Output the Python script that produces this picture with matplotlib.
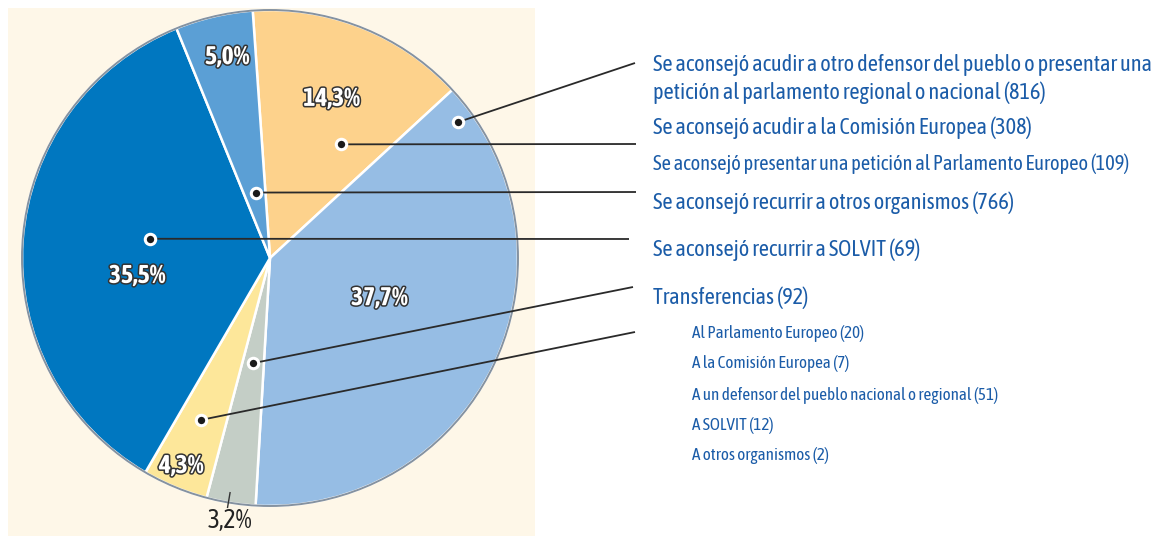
import matplotlib
matplotlib.use("Agg")
import matplotlib.pyplot as plt
import matplotlib.patheffects as pe
from matplotlib.patches import Rectangle, Circle
import numpy as np

# slices, clockwise from the top
slice_names = ["Comisión Europea", "Otro defensor / parlamento", "SOLVIT",
               "Transferencias", "Otros organismos", "Parlamento Europeo"]
counts = [308, 816, 69, 92, 766, 109]
pct_labels = ["14,3%", "37,7%", "3,2%", "4,3%", "35,5%", "5,0%"]
colors = ["#FDD28C", "#96BDE4", "#C4CEC6", "#FDE79A", "#0077C0", "#5B9FD5"]

main_labels = [
    "Se aconsejó acudir a otro defensor del pueblo o presentar una\npetición al parlamento regional o nacional (816)",
    "Se aconsejó acudir a la Comisión Europea (308)",
    "Se aconsejó presentar una petición al Parlamento Europeo (109)",
    "Se aconsejó recurrir a otros organismos (766)",
    "Se aconsejó recurrir a SOLVIT (69)",
    "Transferencias (92)",
]
sub_labels = ["Al Parlamento Europeo (20)", "A la Comisión Europea (7)",
              "A un defensor del pueblo nacional o regional (51)",
              "A SOLVIT (12)", "A otros organismos (2)"]

W, H = 1163, 536
BLUE_TXT = "#1B5CA8"
plt.rcParams["font.family"] = ["Asap Condensed", "Liberation Sans Narrow", "DejaVu Sans"]

def Y(y):
    return H - y

fig = plt.figure(figsize=(W / 100, H / 100), dpi=100)
ax = fig.add_axes([0, 0, 1, 1])

ax.add_patch(Rectangle((8, 0), 527, H - 8, facecolor="#FEF7E8", edgecolor="none", zorder=0))

cx, cy, R = 270, Y(258), 248
wedges, _ = ax.pie(counts, colors=colors, startangle=94, counterclock=False,
                   center=(cx, cy), radius=R, frame=True,
                   wedgeprops=dict(edgecolor="white", linewidth=1.8))
ax.set_xlim(0, W)
ax.set_ylim(0, H)
ax.set_aspect("equal")
ax.axis("off")
ax.add_patch(Circle((cx, cy), R, facecolor="none", edgecolor="#8592A0", lw=1.4, zorder=5))

def polar(w, frac_ang, frac_r):
    # frac_ang measured clockwise from the wedge's starting edge
    t1, t2 = w.theta1, w.theta2
    a = np.deg2rad(t2 - frac_ang * (t2 - t1))
    return cx + frac_r * R * np.cos(a), cy + frac_r * R * np.sin(a)

pct_pos = [(0.49, 0.69), (0.46, 0.47), None, (0.54, 0.91), (0.41, 0.54), (0.56, 0.83)]
for w, lab, pos in zip(wedges, pct_labels, pct_pos):
    if pos is None:
        continue
    x, y = polar(w, *pos)
    ax.text(x, y, lab, ha="center", va="center", fontsize=18.5, fontweight="bold",
            color="white", zorder=6,
            path_effects=[pe.withStroke(linewidth=2.2, foreground="#333333")])

x0, y0 = polar(wedges[2], 0.55, 0.96)
x1, y1 = polar(wedges[2], 0.55, 1.02)
ax.plot([x0, x1], [y0, y1], color="#333333", lw=1, zorder=6)
xt, yt = polar(wedges[2], 0.47, 1.07)
ax.text(xt, yt, pct_labels[2], ha="center", va="center", fontsize=18.5,
        color="#222222", zorder=6)

leaders = {
    1: (0.05, 0.935, 635, 63),
    0: (0.70, 0.54, 636, 144),
    5: (0.55, 0.27, 636, 192),
    4: (0.54, 0.49, 629, 239),
    2: (0.52, 0.43, 633, 287),
    3: (0.54, 0.71, 635, 332),
}
for i, (fa, fr, ex, ey) in leaders.items():
    x, y = polar(wedges[i], fa, fr)
    ax.plot([x, ex], [y, Y(ey)], color="#2A2A2A", lw=1.3, zorder=6, solid_capstyle="butt")
    ax.plot(x, y, marker="o", markersize=7.5, markerfacecolor="#1A1A1A",
            markeredgecolor="white", markeredgewidth=2.2, zorder=7)

main_y = [79, 128, 164, 203, 250, 298]
main_fs = [16, 16, 14.7, 16, 16, 16]
for lab, y, fs in zip(main_labels, main_y, main_fs):
    ax.text(653, Y(y), lab, ha="left", va="center", fontsize=fs, color=BLUE_TXT,
            linespacing=1.3)

sub_y = [334, 364, 395, 425, 456]
for lab, y in zip(sub_labels, sub_y):
    ax.text(692, Y(y), lab, ha="left", va="center", fontsize=12.3, color=BLUE_TXT)

fig.savefig("out.png", dpi=100)
